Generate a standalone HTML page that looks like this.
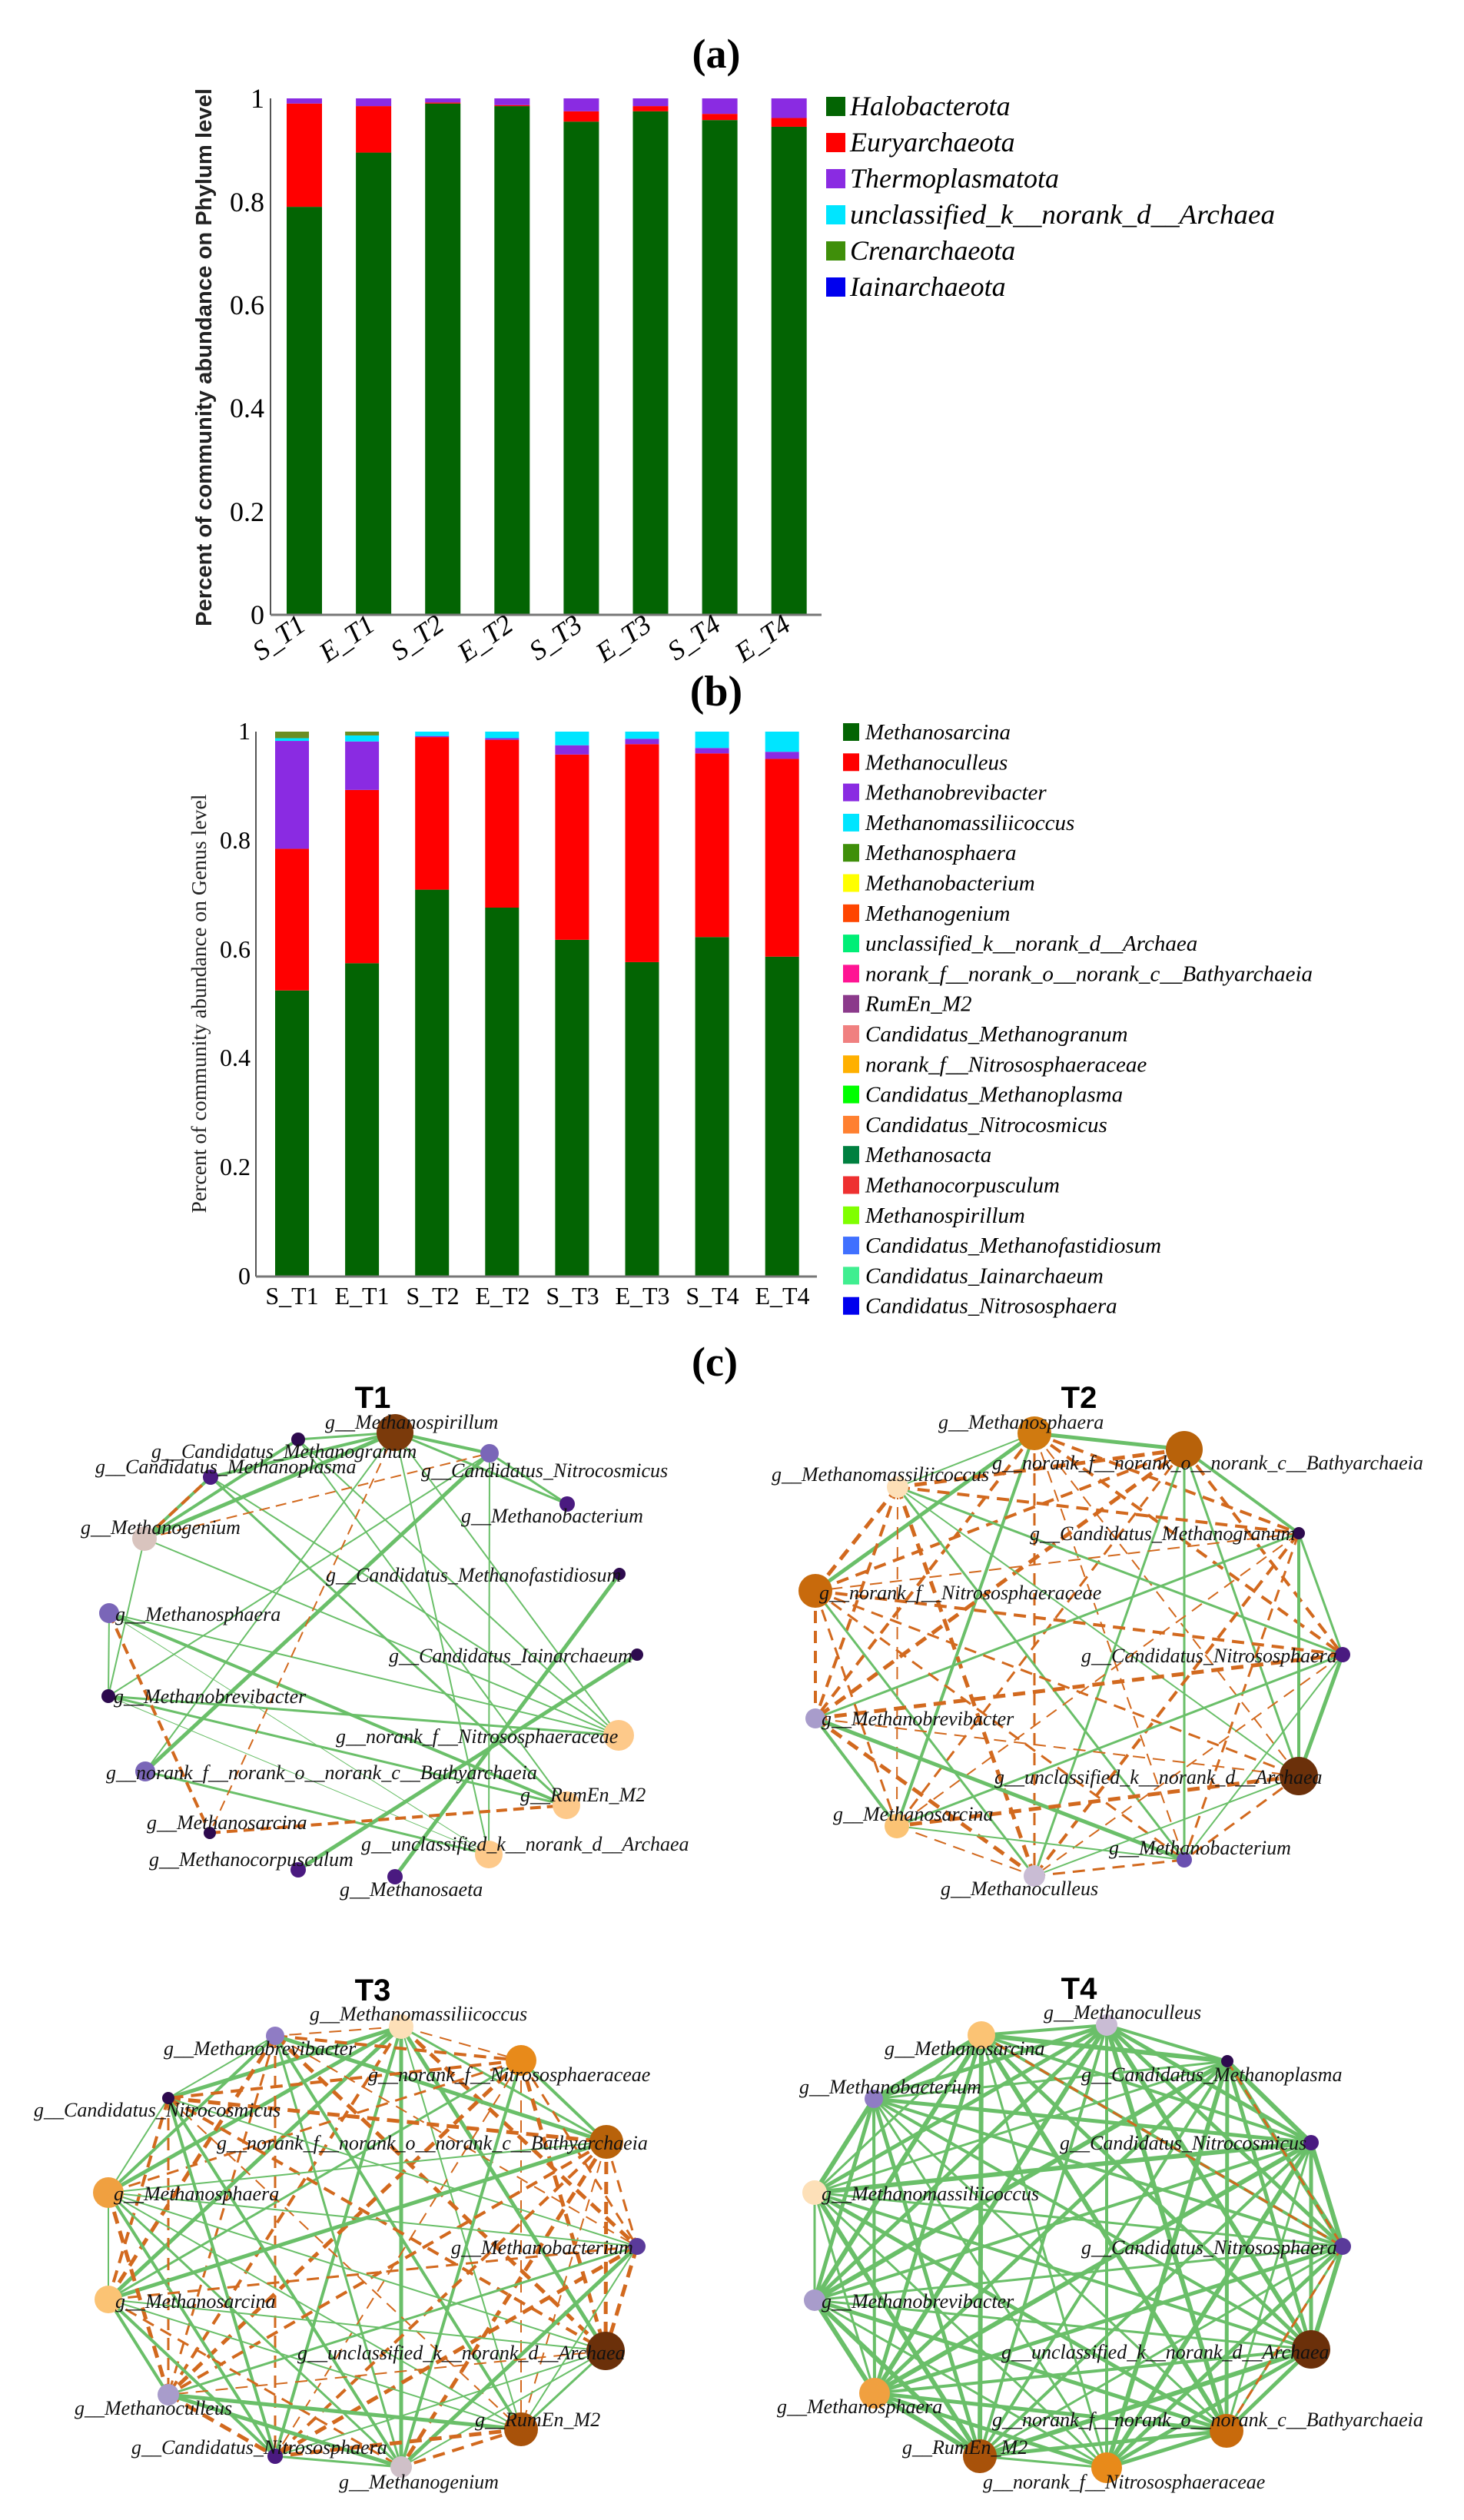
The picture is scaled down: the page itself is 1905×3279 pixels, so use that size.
<!DOCTYPE html>
<html><head><meta charset="utf-8"><style>
html,body{margin:0;padding:0;background:#fff;}
svg{display:block;}
.sr{font-family:"Liberation Serif",serif;}
.it{font-family:"Liberation Serif",serif;font-style:italic;}
.nl{font-family:"Liberation Serif",serif;font-style:italic;font-size:26px;fill:#111;}
.tt{font-family:"Liberation Sans",sans-serif;font-weight:bold;font-size:40px;}
</style></head><body>
<svg id="s" width="1905" height="3279" viewBox="0 0 1905 3279" xmlns="http://www.w3.org/2000/svg">
<rect width="1905" height="3279" fill="#fff"/>
<!-- Panel titles -->
<text x="932" y="88" text-anchor="middle" class="sr" font-weight="bold" font-size="54">(a)</text>
<text x="932" y="918" text-anchor="middle" class="sr" font-weight="bold" font-size="56">(b)</text>
<text x="930" y="1790" text-anchor="middle" class="sr" font-weight="bold" font-size="54">(c)</text>

<!-- Panel a -->
<g id="pa"></g>
<line x1="352" y1="128" x2="352" y2="800" stroke="#555" stroke-width="2"/>
<line x1="352" y1="800" x2="1069" y2="800" stroke="#777" stroke-width="3"/>
<g class="sr" font-size="36" text-anchor="end">
<text x="344" y="140">1</text><text x="344" y="275">0.8</text><text x="344" y="409">0.6</text>
<text x="344" y="543">0.4</text><text x="344" y="678">0.2</text><text x="344" y="812">0</text>
</g>
<text transform="translate(275,465) rotate(-90)" text-anchor="middle" font-family="Liberation Sans,sans-serif" font-weight="bold" font-size="29" fill="#222" textLength="700" lengthAdjust="spacingAndGlyphs">Percent of community abundance on Phylum level</text>
<g class="it" font-size="36" text-anchor="end">
<text transform="translate(400,818) rotate(-35)">S_T1</text>
<text transform="translate(490,818) rotate(-35)">E_T1</text>
<text transform="translate(580,818) rotate(-35)">S_T2</text>
<text transform="translate(670,818) rotate(-35)">E_T2</text>
<text transform="translate(760,818) rotate(-35)">S_T3</text>
<text transform="translate(850,818) rotate(-35)">E_T3</text>
<text transform="translate(940,818) rotate(-35)">S_T4</text>
<text transform="translate(1031,818) rotate(-35)">E_T4</text>
</g>
<g class="it" font-size="36">
<rect x="1075" y="126" width="25" height="25" fill="#036403"/><text x="1106" y="150">Halobacterota</text>
<rect x="1075" y="173" width="25" height="25" fill="#ff0000"/><text x="1106" y="197">Euryarchaeota</text>
<rect x="1075" y="220" width="25" height="25" fill="#8a2be2"/><text x="1106" y="244">Thermoplasmatota</text>
<rect x="1075" y="267" width="25" height="25" fill="#00e5ff"/><text x="1106" y="291" textLength="553" lengthAdjust="spacingAndGlyphs">unclassified_k__norank_d__Archaea</text>
<rect x="1075" y="314" width="25" height="25" fill="#3f8f0a"/><text x="1106" y="338">Crenarchaeota</text>
<rect x="1075" y="361" width="25" height="25" fill="#0000ee"/><text x="1106" y="385">Iainarchaeota</text>
</g>

<!-- Panel b -->
<g id="pb"></g>
<line x1="333" y1="952" x2="333" y2="1661" stroke="#555" stroke-width="2"/>
<line x1="333" y1="1661" x2="1063" y2="1661" stroke="#777" stroke-width="3"/>
<g class="sr" font-size="32" text-anchor="end">
<text x="326" y="962">1</text><text x="326" y="1104">0.8</text><text x="326" y="1246">0.6</text>
<text x="326" y="1387">0.4</text><text x="326" y="1529">0.2</text><text x="326" y="1671">0</text>
</g>
<text transform="translate(268,1306) rotate(-90)" text-anchor="middle" class="sr" font-size="27" fill="#222" textLength="545" lengthAdjust="spacingAndGlyphs">Percent of community abundance on Genus level</text>
<g class="sr" font-size="32" text-anchor="middle">
<text x="380" y="1697">S_T1</text><text x="471" y="1697">E_T1</text><text x="563" y="1697">S_T2</text><text x="654" y="1697">E_T2</text>
<text x="745" y="1697">S_T3</text><text x="836" y="1697">E_T3</text><text x="927" y="1697">S_T4</text><text x="1018" y="1697">E_T4</text>
</g>
<g id="lb" class="it" font-size="29"></g>

<!-- Networks -->
<g id="edges"></g>
<g id="nodes"></g>
<text x="485" y="1832" text-anchor="middle" class="tt">T1</text>
<text x="1404" y="1832" text-anchor="middle" class="tt">T2</text>
<text x="485" y="2603" text-anchor="middle" class="tt">T3</text>
<text x="1404" y="2601" text-anchor="middle" class="tt">T4</text>

<g class="nl">
<!-- T1 -->
<text x="423" y="1859">g__Methanospirillum</text>
<text x="197" y="1897">g__Candidatus_Methanogranum</text>
<text x="124" y="1917">g__Candidatus_Methanoplasma</text>
<text x="548" y="1922">g__Candidatus_Nitrocosmicus</text>
<text x="600" y="1981">g__Methanobacterium</text>
<text x="105" y="1996">g__Methanogenium</text>
<text x="424" y="2058">g__Candidatus_Methanofastidiosum</text>
<text x="150" y="2109">g__Methanosphaera</text>
<text x="506" y="2163">g__Candidatus_Iainarchaeum</text>
<text x="148" y="2216">g__Methanobrevibacter</text>
<text x="437" y="2268">g__norank_f__Nitrososphaeraceae</text>
<text x="138" y="2315">g__norank_f__norank_o__norank_c__Bathyarchaeia</text>
<text x="677" y="2344">g__RumEn_M2</text>
<text x="191" y="2380">g__Methanosarcina</text>
<text x="470" y="2408">g__unclassified_k__norank_d__Archaea</text>
<text x="194" y="2428">g__Methanocorpusculum</text>
<text x="442" y="2467">g__Methanosaeta</text>
<!-- T2 -->
<text x="1221" y="1859">g__Methanosphaera</text>
<text x="1291" y="1912">g__norank_f__norank_o__norank_c__Bathyarchaeia</text>
<text x="1004" y="1927">g__Methanomassiliicoccus</text>
<text x="1340" y="2004">g__Candidatus_Methanogranum</text>
<text x="1066" y="2081">g__norank_f__Nitrososphaeraceae</text>
<text x="1407" y="2163">g__Candidatus_Nitrososphaera</text>
<text x="1069" y="2245">g__Methanobrevibacter</text>
<text x="1294" y="2321">g__unclassified_k__norank_d__Archaea</text>
<text x="1084" y="2369">g__Methanosarcina</text>
<text x="1443" y="2413">g__Methanobacterium</text>
<text x="1224" y="2466">g__Methanoculleus</text>
<!-- T3 -->
<text x="403" y="2629">g__Methanomassiliicoccus</text>
<text x="213" y="2674">g__Methanobrevibacter</text>
<text x="479" y="2708">g__norank_f__Nitrososphaeraceae</text>
<text x="44" y="2754">g__Candidatus_Nitrocosmicus</text>
<text x="282" y="2797">g__norank_f__norank_o__norank_c__Bathyarchaeia</text>
<text x="148" y="2863">g__Methanosphaera</text>
<text x="587" y="2933">g__Methanobacterium</text>
<text x="150" y="3003">g__Methanosarcina</text>
<text x="387" y="3070">g__unclassified_k__norank_d__Archaea</text>
<text x="97" y="3142">g__Methanoculleus</text>
<text x="618" y="3157">g__RumEn_M2</text>
<text x="171" y="3193">g__Candidatus_Nitrososphaera</text>
<text x="441" y="3238">g__Methanogenium</text>
<!-- T4 -->
<text x="1358" y="2627">g__Methanoculleus</text>
<text x="1151" y="2674">g__Methanosarcina</text>
<text x="1407" y="2708">g__Candidatus_Methanoplasma</text>
<text x="1040" y="2724">g__Methanobacterium</text>
<text x="1379" y="2797">g__Candidatus_Nitrocosmicus</text>
<text x="1069" y="2863">g__Methanomassiliicoccus</text>
<text x="1407" y="2933">g__Candidatus_Nitrososphaera</text>
<text x="1069" y="3003">g__Methanobrevibacter</text>
<text x="1303" y="3069">g__unclassified_k__norank_d__Archaea</text>
<text x="1011" y="3140">g__Methanosphaera</text>
<text x="1291" y="3157">g__norank_f__norank_o__norank_c__Bathyarchaeia</text>
<text x="1174" y="3193">g__RumEn_M2</text>
<text x="1279" y="3238">g__norank_f__Nitrososphaeraceae</text>
</g>
</svg>
<script>
var NS="http://www.w3.org/2000/svg";
function el(p,t,a){var e=document.createElementNS(NS,t);for(var k in a)e.setAttribute(k,a[k]);p.appendChild(e);return e;}
// Panel a bars
var pa=document.getElementById("pa");
var A=[[.79,.99,1],[.895,.985,1],[.99,.992,1],[.985,.987,1],[.955,.975,1],[.975,.985,1],[.958,.97,1],[.945,.962,1]];
var ac=["#036403","#ff0000","#8a2be2"];
for(var i=0;i<8;i++){var cx=396+i*90.1,prev=0;for(var j=0;j<3;j++){var y0=800-672*A[i][j],y1=800-672*prev;el(pa,"rect",{x:cx-23,y:y0,width:46,height:y1-y0,fill:ac[j]});prev=A[i][j];}}
// Panel b bars
var pb=document.getElementById("pb");
var B=[[.525,.785,.983,.988,1],[.575,.893,.982,.993,1],[.71,.99,.992,1,1],[.677,.985,.988,1,1],[.618,.958,.975,1,1],[.577,.977,.987,1,1],[.623,.96,.97,1,1],[.587,.95,.963,1,1]];
var bc=["#036403","#ff0000","#8a2be2","#00e5ff","#6b8e23"];
for(var i=0;i<8;i++){var cx=380+i*91.1,prev=0;for(var j=0;j<5;j++){var y0=1661-709*B[i][j],y1=1661-709*prev;if(y1-y0>0)el(pb,"rect",{x:cx-22,y:y0,width:44,height:y1-y0,fill:bc[j]});prev=B[i][j];}}
// legend b
var lb=document.getElementById("lb");
var L=[["Methanosarcina","#036403"],["Methanoculleus","#ff0000"],["Methanobrevibacter","#8a2be2"],["Methanomassiliicoccus","#00e5ff"],["Methanosphaera","#3f8f0a"],["Methanobacterium","#ffff00"],["Methanogenium","#ff4500"],["unclassified_k__norank_d__Archaea","#00ee76"],["norank_f__norank_o__norank_c__Bathyarchaeia","#ff1493"],["RumEn_M2","#8b3a8b"],["Candidatus_Methanogranum","#f08080"],["norank_f__Nitrososphaeraceae","#ffb000"],["Candidatus_Methanoplasma","#00ff00"],["Candidatus_Nitrocosmicus","#ff8030"],["Methanosacta","#008040"],["Methanocorpusculum","#ee3030"],["Methanospirillum","#80ff00"],["Candidatus_Methanofastidiosum","#4070ff"],["Candidatus_Iainarchaeum","#40ee90"],["Candidatus_Nitrososphaera","#0000ee"]];
for(var i=0;i<L.length;i++){var y=952+i*39.3;el(lb,"rect",{x:1097,y:y-11,width:21,height:23,fill:L[i][1]});var t=el(lb,"text",{x:1126,y:y+10});t.textContent=L[i][0];}
// Networks
var E=document.getElementById("edges"),N=document.getElementById("nodes");
var G="#6abf69",O="#d2691e";
function edge(a,b,c,w,d){var at={x1:a[0],y1:a[1],x2:b[0],y2:b[1],stroke:c,"stroke-width":w};if(d)at["stroke-dasharray"]=d;el(E,"line",at);}
function nodes(ns){for(var i=0;i<ns.length;i++)el(N,"circle",{cx:ns[i][0],cy:ns[i][1],r:ns[i][2],fill:ns[i][3]});}
var D1="#2d0a4e",P1="#4a1a80",V1="#7a66b8",F1="#fdc98a";
var T1=[[514,1864,24,"#7b3a0b"],[388,1873,9,D1],[274,1922,10,P1],[637,1891,12,V1],[738,1957,10,P1],[188,2002,16,"#d9c4be"],[806,2048,8,D1],[142,2099,13,V1],[829,2153,8,D1],[141,2207,9,D1],[805,2258,20,F1],[189,2305,13,V1],[737,2349,18,F1],[273,2385,8,D1],[636,2413,18,F1],[388,2433,10,P1],[514,2442,10,P1]];
var g1=[[0,5,5],[0,2,4],[1,5,4],[2,5,4],[0,1,3],[0,3,4],[0,4,3],[3,4,3],[0,14,2],[0,10,2],[3,11,5],[3,14,2],[1,12,2],[2,10,2],[2,12,3],[5,10,2],[5,9,2],[7,10,2],[7,12,4],[7,14,1],[9,10,3],[9,12,3],[9,7,2],[6,16,5],[8,15,5],[11,14,3],[1,10,2],[0,11,2],[3,9,2],[9,14,1]];
g1.forEach(function(e){edge(T1[e[0]],T1[e[1]],G,e[2]);});
[[5,2,4],[5,3,2],[0,13,2],[7,13,4],[13,12,4]].forEach(function(e){edge(T1[e[0]],T1[e[1]],O,e[2],"14 8");});
nodes(T1);
var seed=7;function rnd(){seed=(seed*16807)%2147483647;return seed/2147483647;}
function full(ns,pg,dash){for(var i=0;i<ns.length;i++)for(var j=i+1;j<ns.length;j++){var r=rnd();if(r<pg)edge(ns[i],ns[j],G,2+Math.floor(rnd()*4));else if(r<pg+(1-pg)*dash)edge(ns[i],ns[j],O,2+Math.floor(rnd()*4),"16 10");}}
var T2=[[1346,1865,22,"#d07a10"],[1541,1886,24,"#b8620a"],[1168,1935,14,"#fde0b8"],[1690,1995,8,D1],[1061,2070,22,"#c86a0c"],[1747,2153,10,P1],[1061,2236,13,"#a89ccb"],[1690,2311,25,"#6b300a"],[1167,2376,16,"#fbc374"],[1541,2420,10,"#6a50b0"],[1346,2441,14,"#c9bcd4"]];
full(T2,0.5,1);nodes(T2);
var T3=[[522,2637,16,"#fde0b8"],[358,2649,12,"#8f7cc4"],[678,2681,20,"#e88a1a"],[219,2730,8,D1],[789,2787,22,"#b8620a"],[141,2853,20,"#f0a040"],[829,2923,11,"#5a3a9a"],[141,2992,18,"#fbc374"],[788,3059,25,"#6b300a"],[219,3116,14,"#a89ccb"],[678,3161,22,"#a8520a"],[358,3196,10,P1],[522,3210,14,"#cfc0c8"]];
full(T3,0.55,1);nodes(T3);
var T4=[[1440,2635,14,"#c9bcd4"],[1277,2648,18,"#fbc374"],[1597,2682,8,D1],[1137,2731,12,"#8f7cc4"],[1706,2788,10,P1],[1060,2853,16,"#fde0b8"],[1747,2923,11,"#5a3a9a"],[1060,2993,14,"#a89ccb"],[1706,3057,25,"#6b300a"],[1138,3114,20,"#f0a040"],[1596,3163,22,"#c86a0c"],[1275,3196,22,"#a8520a"],[1440,3211,20,"#e88a1a"]];
for(var i=0;i<13;i++)for(var j=i+1;j<13;j++){edge(T4[i],T4[j],G,3+Math.floor(rnd()*4));}
edge(T4[1],T4[6],O,3,"14 8");edge(T4[2],T4[6],O,3,"14 8");edge(T4[6],T4[10],O,3,"14 8");
nodes(T4);
</script>
</body></html>
